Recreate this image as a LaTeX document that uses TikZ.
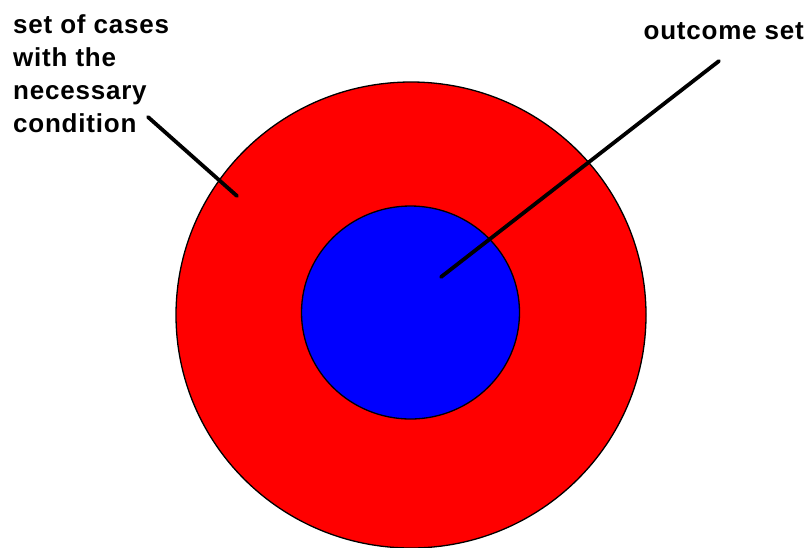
\documentclass[tikz,border=0pt]{standalone}
\usepackage{fontspec}
\setmainfont{Liberation Sans}
\newfontfamily\lblfont[LetterSpace=3]{Liberation Sans}
\usetikzlibrary{shapes.geometric}
\begin{document}
\begin{tikzpicture}[x=1pt,y=-1pt,
  setshape/.style={draw=black,line width=1.3pt},
  pointer/.style={draw=black,line width=3.8pt,line cap=round},
  lbl/.style={font=\lblfont\fontsize{26}{33}\selectfont\bfseries,inner sep=0pt,align=left}]
\useasboundingbox (0,0) rectangle (810,547);
\begin{scope}
\clip (0,0) rectangle (810,547);
\node[setshape,fill={rgb,255:red,255;green,0;blue,0},ellipse,minimum width=470pt,minimum height=466pt,inner sep=0pt] (outer) at (411,315) {};
\end{scope}
\node[setshape,fill={rgb,255:red,0;green,0;blue,255},ellipse,minimum width=218pt,minimum height=213pt,inner sep=0pt] (inner) at (410.5,312.5) {};
\node[lbl,anchor=north west] (nc) at (13,14) {set of cases\\with the\\necessary\\condition};
\node[lbl,anchor=north east] (os) at (804,22) {outcome set};
\coordinate (a1) at (148,117);
\coordinate (a2) at (237,196);
\coordinate (b1) at (719,61);
\coordinate (b2) at (441,277);
\draw[pointer] (a1) -- (a2);
\draw[pointer] (b1) -- (b2);
\end{tikzpicture}
\end{document}
